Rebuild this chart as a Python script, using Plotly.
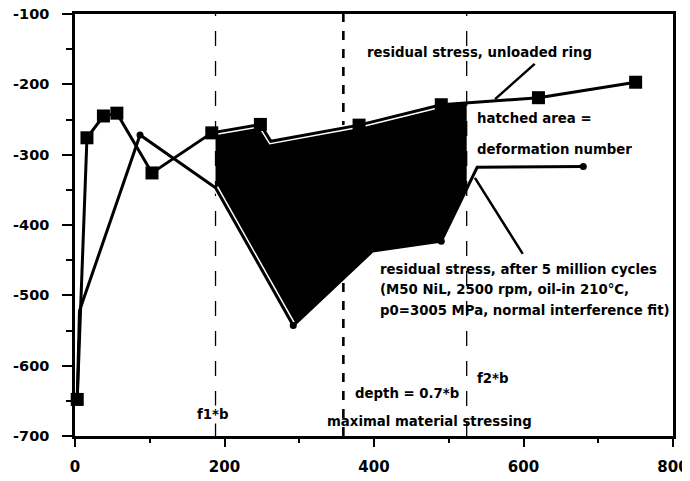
import numpy as np
import plotly.graph_objects as go

# --- data -------------------------------------------------------------
# residual stress, unloaded ring (squares)
unloaded_x = [3, 16, 38, 56, 103, 183, 248, 262, 380, 490, 620, 750]
unloaded_y = [-648, -276, -245, -241, -326, -269, -257, -281, -258, -229, -219, -197]
unloaded_marked = [True, True, True, True, True, True, True, False, True, True, True, True]

# residual stress, after 5 million cycles (circles)
after_x = [3, 6, 87, 188, 292, 398, 490, 538, 680]
after_y = [-645, -522, -272, -347, -543, -437, -423, -318, -317]
after_marked = [False, False, True, False, True, False, True, False, True]

# characteristic depths
f1_depth = 188
depth_07b = 359
f2_depth = 524

x_ticks = [0, 200, 400, 600, 800]
y_ticks = [-700, -600, -500, -400, -300, -200, -100]

# text labels: (text, x, y, anchor)
labels = [
    ("residual stress, unloaded ring", 388, -155, "left"),
    ("hatched area =", 535, -249, "left"),
    ("deformation number", 535, -292, "left"),
    ("residual stress, after 5 million cycles", 405, -463, "left"),
    ("(M50 NiL, 2500 rpm, oil-in 210°C,", 405, -491, "left"),
    ("p0=3005 MPa, normal interference fit)", 405, -521, "left"),
    ("f2*b", 535, -618, "left"),
    ("depth = 0.7*b", 372, -640, "left"),
    ("maximal material stressing", 334, -679, "left"),
]
f1_label = ("f1*b", 185, -669)

# pointer lines: (x_start, y_start, x_end, y_end)
pointers = [
    (615, -171, 562, -221),
    (535, -333, 599, -441),
]

# --- figure -----------------------------------------------------------
ux = np.array(unloaded_x, float); uy = np.array(unloaded_y, float)
ax_ = np.array(after_x, float); ay_ = np.array(after_y, float)

inner_u = ux[(ux > f1_depth) & (ux < f2_depth)]
inner_a = ax_[(ax_ > f1_depth) & (ax_ < f2_depth)]
top_x = np.concatenate([[f1_depth], inner_u, [f2_depth]])
top_y = np.interp(top_x, ux, uy)
bot_x = np.concatenate([[f1_depth], inner_a, [f2_depth]])[::-1]
bot_y = np.interp(bot_x, ax_, ay_)
poly_x = np.concatenate([top_x, bot_x])
poly_y = np.concatenate([top_y, bot_y])

fig = go.Figure()
fig.add_trace(go.Scatter(x=poly_x, y=poly_y, fill="toself", fillcolor="black",
                         mode="lines", line=dict(width=0), hoverinfo="skip"))

for xv, dash, w in [(f1_depth, "longdash", 1.3), (depth_07b, "dash", 2.6), (f2_depth, "longdash", 1.3)]:
    fig.add_shape(type="line", x0=xv, x1=xv, y0=-700, y1=-100, xref="x", yref="y",
                  line=dict(color="black", width=w, dash=dash), layer="below")

# thin white halos where the curves bound the hatched area (as in the scan)
fig.add_trace(go.Scatter(x=unloaded_x[5:10], y=unloaded_y[5:10], mode="lines",
                         line=dict(color="white", width=6), hoverinfo="skip"))
fig.add_trace(go.Scatter(x=after_x[3:5], y=after_y[3:5], mode="lines",
                         line=dict(color="white", width=6), hoverinfo="skip"))

fig.add_trace(go.Scatter(x=unloaded_x, y=unloaded_y, mode="lines+markers",
                         line=dict(color="black", width=3),
                         marker=dict(symbol="square", color="black", opacity=1,
                                     line=dict(width=0),
                                     size=[13 if m else 0 for m in unloaded_marked]),
                         cliponaxis=False))
fig.add_trace(go.Scatter(x=after_x, y=after_y, mode="lines+markers",
                         line=dict(color="black", width=3),
                         marker=dict(symbol="circle", color="black", opacity=1,
                                     line=dict(width=0),
                                     size=[7 if m else 0 for m in after_marked]),
                         cliponaxis=False))

afont = dict(family="DejaVu Sans", size=13.3, color="black", weight="bold")
for text, x, y, anc in labels:
    fig.add_annotation(x=x, y=y, text=text, showarrow=False, xanchor=anc,
                       yanchor="middle", font=afont)
fig.add_annotation(x=f1_label[1], y=f1_label[2], text=f1_label[0], showarrow=False,
                   xanchor="center", yanchor="middle", font=afont, bgcolor="white")

for x0, y0, x1, y1 in pointers:
    fig.add_shape(type="line", x0=x0, y0=y0, x1=x1, y1=y1, xref="x", yref="y",
                  line=dict(color="black", width=2.5))

xfont = dict(family="DejaVu Sans", size=15, color="black", weight="bold")
yfont = dict(family="DejaVu Sans", size=14.5, color="black", weight="bold")
fig.update_xaxes(range=[0, 800], tickvals=x_ticks, ticktext=[str(v) for v in x_ticks],
                 showgrid=False, zeroline=False, automargin=False,
                 showline=True, linecolor="black", linewidth=2.5, mirror=True,
                 ticks="outside", ticklen=8, tickwidth=2, tickcolor="black",
                 minor=dict(dtick=100, ticks="outside", ticklen=4, tickwidth=2, tickcolor="black"),
                 tickfont=xfont, ticklabelstandoff=7, ticklabeloverflow="allow")
fig.update_yaxes(range=[-700, -100], tickvals=y_ticks, ticktext=[str(v) for v in y_ticks],
                 showgrid=False, zeroline=False, automargin=False,
                 showline=True, linecolor="black", linewidth=2.5, mirror=True,
                 ticks="outside", ticklen=10, tickwidth=2, tickcolor="black",
                 minor=dict(dtick=50, ticks="outside", ticklen=6, tickwidth=2, tickcolor="black"),
                 tickfont=yfont, ticklabelstandoff=10, ticklabeloverflow="allow")
fig.update_layout(width=690, height=481, showlegend=False,
                  margin=dict(l=67, r=25, t=6, b=53),
                  plot_bgcolor="white", paper_bgcolor="white")
fig.write_html("out.html")
